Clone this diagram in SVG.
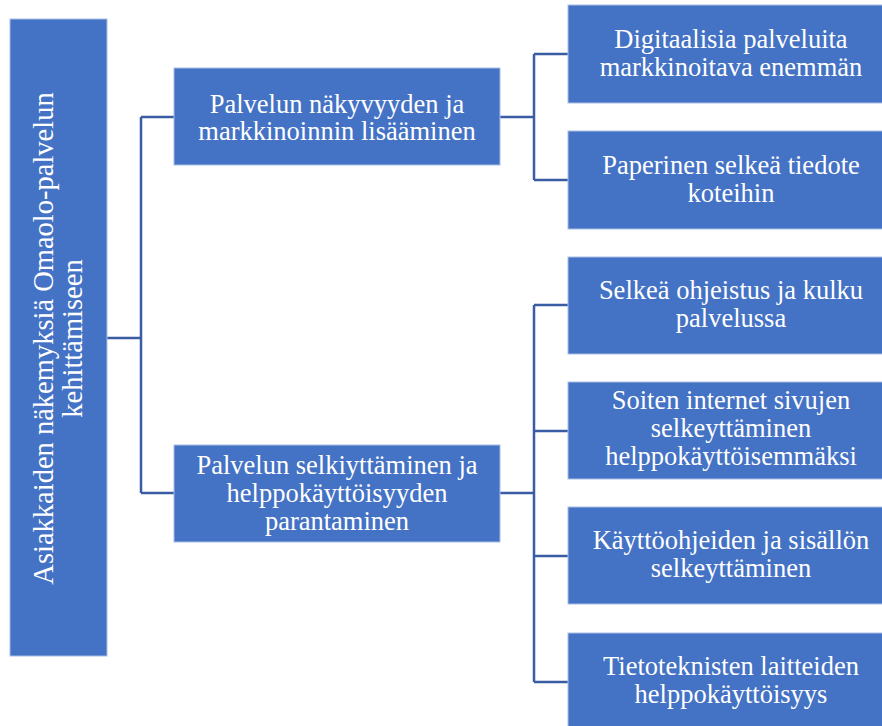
<svg xmlns="http://www.w3.org/2000/svg" width="882" height="726" viewBox="0 0 882 726">
<style>
.box{fill:#4472C4;stroke:#A9BEE6;stroke-width:1}
.t{font-family:"Liberation Serif","Times New Roman",serif;font-size:26.5px;fill:#ffffff;text-anchor:middle}
.r{font-size:28.5px}
.c{fill:none;stroke:#3A5CA3;stroke-width:2.5}
</style>
<rect width="882" height="726" fill="#ffffff"/>
<g id="connectors">
<path class="c" d="M107 338H141M141 117V493M141 117H174M141 493H174"/>
<path class="c" d="M500 117H534M534 54V180M534 54H568M534 180H568"/>
<path class="c" d="M500 493H534M534 305V682M534 305H568M534 431H568M534 556H568M534 682H568"/>
</g>
<g id="root">
<rect class="box" x="10" y="19" width="97" height="637"/>
<text class="t r" transform="translate(0,338.5) rotate(-90)"><tspan x="0" y="53">Asiakkaiden näkemyksiä Omaolo-palvelun</tspan><tspan x="0" y="82">kehittämiseen</tspan></text>
</g>
<g id="n1">
<rect class="box" x="174" y="68" width="326" height="97"/>
<text class="t"><tspan x="337" y="112.5">Palvelun näkyvyyden ja</tspan><tspan x="337" y="140">markkinoinnin lisääminen</tspan></text>
</g>
<g id="n2">
<rect class="box" x="174" y="445" width="326" height="97"/>
<text class="t"><tspan x="337" y="474">Palvelun selkiyttäminen ja</tspan><tspan x="337" y="502">helppokäyttöisyyden</tspan><tspan x="337" y="530">parantaminen</tspan></text>
</g>
<g id="n1a">
<rect class="box" x="568" y="5" width="326" height="98"/>
<text class="t"><tspan x="731" y="48">Digitaalisia palveluita</tspan><tspan x="731" y="76">markkinoitava enemmän</tspan></text>
</g>
<g id="n1b">
<rect class="box" x="568" y="131" width="326" height="98"/>
<text class="t"><tspan x="731" y="174">Paperinen selkeä tiedote</tspan><tspan x="731" y="201.5">koteihin</tspan></text>
</g>
<g id="n2a">
<rect class="box" x="568" y="257" width="326" height="97"/>
<text class="t"><tspan x="731" y="299">Selkeä ohjeistus ja kulku</tspan><tspan x="731" y="327">palvelussa</tspan></text>
</g>
<g id="n2b">
<rect class="box" x="568" y="382" width="326" height="97"/>
<text class="t"><tspan x="731" y="409">Soiten internet sivujen</tspan><tspan x="731" y="437">selkeyttäminen</tspan><tspan x="731" y="465">helppokäyttöisemmäksi</tspan></text>
</g>
<g id="n2c">
<rect class="box" x="568" y="507" width="326" height="97"/>
<text class="t"><tspan x="731" y="549">Käyttöohjeiden ja sisällön</tspan><tspan x="731" y="577">selkeyttäminen</tspan></text>
</g>
<g id="n2d">
<rect class="box" x="568" y="633" width="326" height="97"/>
<text class="t"><tspan x="731" y="675">Tietoteknisten laitteiden</tspan><tspan x="731" y="703">helppokäyttöisyys</tspan></text>
</g>
</svg>
